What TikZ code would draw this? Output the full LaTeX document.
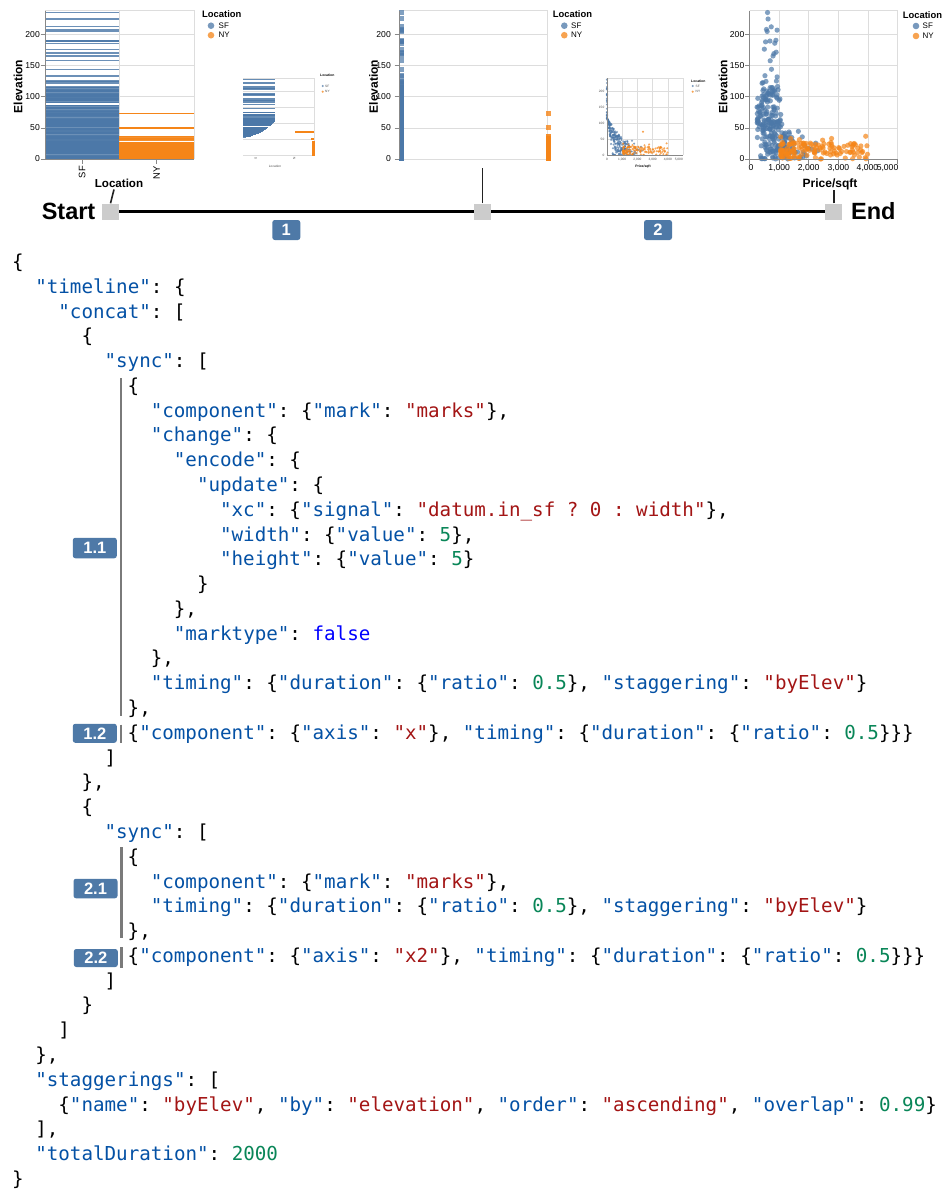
\documentclass[tikz,border=0pt]{standalone}
\usepackage{fontspec}
\setmainfont{Liberation Sans}
\newfontfamily\codefont{DejaVu Sans Mono}
\definecolor{sfc}{HTML}{4C78A8}
\definecolor{nyc}{HTML}{F58518}
\definecolor{jkeyc}{HTML}{0451A5}
\definecolor{jstrc}{HTML}{A31515}
\definecolor{jnumc}{HTML}{098658}
\definecolor{jboolc}{HTML}{0000FF}
\definecolor{badgec}{HTML}{4E79A7}
\definecolor{gridc}{HTML}{DDDDDD}
\definecolor{axc}{HTML}{888888}
\definecolor{sqc}{HTML}{CCCCCC}
\definecolor{codebarc}{HTML}{7A7A7A}
\definecolor{leadc}{HTML}{222222}
\newcommand\jk[1]{\textcolor{jkeyc}{"#1"}}
\newcommand\js[1]{\textcolor{jstrc}{"#1"}}
\newcommand\jn[1]{\textcolor{jnumc}{#1}}
\newcommand\jb[1]{\textcolor{jboolc}{#1}}
\newcommand\jlb{\{}
\newcommand\jrb{\}}
\newcommand\codeln[4]{\node[codeline] (#1) at ({12+11.55*#2},{268.5+24.78*(#3-1)}) {#4};}
\newcommand\sfgen{%
  \pgfmathsetmacro\myra{rnd}%
  \pgfmathsetmacro\myrb{rnd}%
  \pgfmathsetmacro\myrc{rnd}%
  \pgfmathsetmacro\myrd{rnd}%
  \pgfmathsetmacro\ev{\myra<0.011 ? 205+35*\myrb : (\myra<0.04 ? 150+42*\myrb : (\myra<0.09 ? 112+38*\myrb : (\myra<0.30 ? 76+36*\myrb : 76*\myrb)))}%
  \pgfmathsetmacro\pr{\ev>100 ? 420+560*\myrc : 250+850*\myrc + (\ev<45 ? 1300*\myrd*\myrd : 0)}%
}
\newcommand\nygen{%
  \pgfmathsetmacro\myra{rnd}%
  \pgfmathsetmacro\myrb{rnd}%
  \pgfmathsetmacro\myrc{rnd}%
  \pgfmathsetmacro\myrd{rnd}%
  \pgfmathsetmacro\ev{\myra<0.96 ? 27*\myrb : 28+10*\myrb}%
  \pgfmathsetmacro\pr{1050+3000*\myrc^1.5 + (\myrd>0.97 ? 600 : 0)}%
}
\frenchspacing
\tikzset{
  codeline/.style={anchor=base west, inner sep=0, font=\codefont\fontsize{19.2}{24}\selectfont},
  badge/.style={fill=badgec, rounded corners=2.5pt, text=white, inner sep=0,
    font=\bfseries\fontsize{16.5}{16.5}\selectfont},
  codebar/.style={draw=codebarc, line width=2.6pt},
  sqnode/.style={fill=sqc, minimum width=17, minimum height=16, inner sep=0},
  tline/.style={line width=3.2pt},
  leader/.style={draw=leadc, line width=1.6pt},
  ticklbl/.style={font=\fontsize{8.6}{8.6}\selectfont, inner sep=0},
  axtitle/.style={font=\bfseries\fontsize{12}{12}\selectfont, inner sep=0},
  legtitle/.style={font=\bfseries\fontsize{9.4}{9.4}\selectfont, inner sep=0, anchor=west},
  leglbl/.style={font=\fontsize{8}{8}\selectfont, inner sep=0, anchor=west},
  gridln/.style={draw=gridc, line width=.8pt},
  axln/.style={draw=axc, line width=.8pt},
  tinylbl/.style={font=\fontsize{3.2}{3.2}\selectfont, inner sep=0, text=black!70},
  tinytitle/.style={font=\bfseries\fontsize{3.4}{3.4}\selectfont, inner sep=0},
  tinygrid/.style={draw=gridc, line width=.35pt},
}
\begin{document}
\begin{tikzpicture}[x=1pt,y=-1pt]
\useasboundingbox (0,0) rectangle (943,1189);
\fill[white] (0,0) rectangle (943,1189);

%% ================= Chart 1 (bars by location) =================
\foreach \tk in {50,100,150,200} \draw[gridln] (45,{159-0.6217*\tk}) -- (194,{159-0.6217*\tk});
\draw[gridln] (45,10.7) -- (194,10.7) -- (194,159);
\draw[gridln] (119.3,10.7) -- (119.3,159);
\pgfmathsetseed{11}
\foreach \i in {1,...,260}{\sfgen
  \fill[sfc, fill opacity=.82]
    (45,{159-0.6217*\ev-0.6}) rectangle (119.3,{159-0.6217*\ev+0.6});}
\pgfmathsetseed{23}
\foreach \i in {1,...,140}{\nygen
  \fill[nyc, fill opacity=.9]
    (119.3,{159-0.6217*\ev-0.75}) rectangle (194,{159-0.6217*\ev+0.75});}
\foreach \ee in {50,73}
  \fill[nyc] (119.3,{159-0.6217*\ee-0.75}) rectangle (194,{159-0.6217*\ee+0.75});
\draw[axln] (45,10.7) -- (45,159) -- (194,159);
\foreach \tk in {0,50,100,150,200}{
  \draw[axln] (40.5,{159-0.6217*\tk}) -- (45,{159-0.6217*\tk});
  \node[ticklbl, anchor=east] (c1y\tk) at (40,{159-0.6217*\tk}) {\tk};}
\draw[axln] (82.2,159) -- (82.2,164);
\draw[axln] (156.7,159) -- (156.7,164);
\node[ticklbl, font=\fontsize{9.4}{9.4}\selectfont, rotate=90, anchor=east] (c1sf) at (82.2,166) {SF};
\node[ticklbl, font=\fontsize{9.4}{9.4}\selectfont, rotate=90, anchor=east] (c1ny) at (156.7,166) {NY};
\node[axtitle, rotate=90] (c1ytitle) at (18,86.5) {Elevation};
\node[axtitle, font=\bfseries\fontsize{11.6}{11.6}\selectfont] (loclbl) at (119,183) {Location};
\node[legtitle] (c1leg) at (202,13.7) {Location};
\fill[sfc, fill opacity=.75] (211,25.7) circle (3.3pt);
\fill[nyc, fill opacity=.75] (211,35.2) circle (3.3pt);
\node[leglbl] (c1legsf) at (218.5,25.6) {SF};
\node[leglbl] (c1legny) at (218.5,35.1) {NY};

%% ================= Thumbnail 1 =================
\foreach \tk in {0,50,100,150,200} \draw[tinygrid] (243,{155-0.32*\tk}) -- (314,{155-0.32*\tk});
\draw[tinygrid] (243,78.5) -- (314,78.5) -- (314,155);
\pgfmathsetseed{11}
\foreach \i in {1,...,260}{\sfgen
  \pgfmathsetmacro\fw{min(1,sqrt(max(0,(\ev-56)/50)))}
  \ifdim\fw pt>0.03pt
  \fill[sfc, fill opacity=.85]
    (243,{155-0.32*\ev-0.6}) rectangle ({243+32*\fw},{155-0.32*\ev+0.6});
  \fi}
\fill[nyc] (295,130.8) rectangle (314,132.6);
\fill[nyc] (311,138.2) rectangle (314,139.6);
\fill[nyc] (312,141) rectangle (314.6,155.5);
\node[tinylbl, rotate=90, anchor=east] (t1s) at (255.7,157) {S};
\node[tinylbl, rotate=90, anchor=east] (t1n) at (294.3,157) {N};
\node[tinylbl] (t1loc) at (275,166.7) {Location};
\node[tinytitle, anchor=west] (t1leg) at (320,75) {Location};
\fill[sfc, fill opacity=.75] (322.7,86) circle (1.2pt);
\fill[nyc, fill opacity=.75] (322.7,91.7) circle (1.2pt);
\node[tinylbl, anchor=west] (t1sf) at (325,86) {SF};
\node[tinylbl, anchor=west] (t1ny) at (325,91.7) {NY};

%% ================= Chart 2 (collapsed columns) =================
\foreach \tk in {0,50,100,150,200} \draw[gridln] (399,{159-0.6217*\tk}) -- (547,{159-0.6217*\tk});
\draw[gridln] (399,10.7) -- (547,10.7) -- (547,159);
\pgfmathsetseed{11}
\foreach \i in {1,...,260}{\sfgen
  \fill[sfc, fill opacity=.7] (399,{159-0.6217*\ev-2.5}) rectangle (404,{159-0.6217*\ev+2.5});}
\pgfmathsetseed{23}
\foreach \i in {1,...,140}{\nygen
  \fill[nyc, fill opacity=.7] (546,{159-0.6217*\ev-2.5}) rectangle (551,{159-0.6217*\ev+2.5});}
\foreach \ee in {50,73}
  \fill[nyc, fill opacity=.8] (546,{159-0.6217*\ee-2.5}) rectangle (551,{159-0.6217*\ee+2.5});
\draw[axln] (399,10.7) -- (399,159);
\foreach \tk in {0,50,100,150,200}{
  \draw[axln] (394.5,{159-0.6217*\tk}) -- (399,{159-0.6217*\tk});
  \node[ticklbl, anchor=east] (c2y\tk) at (391,{159-0.6217*\tk}) {\tk};}
\node[axtitle, rotate=90] (c2ytitle) at (373.5,86.5) {Elevation};
\node[legtitle] (c2leg) at (552.7,13.7) {Location};
\fill[sfc, fill opacity=.75] (564.3,25.7) circle (3.3pt);
\fill[nyc, fill opacity=.75] (564.3,35.2) circle (3.3pt);
\node[leglbl] (c2legsf) at (571,25.6) {SF};
\node[leglbl] (c2legny) at (571,35.1) {NY};

%% ================= Thumbnail 2 =================
\foreach \tk in {0,50,100,150,200} \draw[tinygrid] (607,{155-0.32*\tk}) -- (683,{155-0.32*\tk});
\foreach \tk in {0,1,2,3,4,5} \draw[tinygrid] ({607+15.2*\tk},78) -- ({607+15.2*\tk},155);
\draw[tinygrid] (607,78) -- (683,78) -- (683,155);
\pgfmathsetseed{11}
\foreach \i in {1,...,260}{\sfgen
  \pgfmathsetmacro\pp{min(1,max(0,(115-\ev)/70))}
  \fill[sfc, fill opacity=.7] ({607+0.0152*\pr*\pp},{155-0.32*\ev}) circle (1.15pt);}
\pgfmathsetseed{23}
\foreach \i in {1,...,140}{\nygen
  \pgfmathsetmacro\pp{min(1,max(0,(110-\ev)/60))}
  \fill[nyc, fill opacity=.7] ({607+0.0152*(5000+(\pr-5000)*\pp)},{155-0.32*\ev}) circle (1.15pt);}
\fill[nyc, fill opacity=.8] (643,131.7) circle (1.15pt);
\draw[draw=axc, line width=.35pt] (607,78) -- (607,155) -- (683,155);
\foreach \tk in {0,50,100,150,200}
  \node[tinylbl, anchor=east] (t2y\tk) at (604.5,{155-0.32*\tk}) {\tk};
\node[tinylbl, anchor=west] (t2x0) at (606,159.5) {0};
\node[tinylbl] (t2x1) at (622.2,159.5) {1,000};
\node[tinylbl] (t2x2) at (637.4,159.5) {2,000};
\node[tinylbl] (t2x3) at (652.6,159.5) {3,000};
\node[tinylbl] (t2x4) at (667.8,159.5) {4,000};
\node[tinylbl, anchor=east] (t2x5) at (683,159.5) {5,000};
\node[tinytitle] (t2xtitle) at (643,166.7) {Price/sqft};
\node[tinytitle, anchor=west] (t2leg) at (691,81.7) {Location};
\fill[sfc, fill opacity=.75] (692.7,86) circle (1.2pt);
\fill[nyc, fill opacity=.75] (692.7,91.7) circle (1.2pt);
\node[tinylbl, anchor=west] (t2sf) at (695.5,86) {SF};
\node[tinylbl, anchor=west] (t2ny) at (695.5,91.7) {NY};

%% ================= Chart 3 (scatter) =================
\foreach \tk in {50,100,150,200} \draw[gridln] (749.5,{159-0.6217*\tk}) -- (898,{159-0.6217*\tk});
\foreach \tk in {1,2,3,4,5} \draw[gridln] ({749.5+29.62*\tk},10.7) -- ({749.5+29.62*\tk},159);
\draw[gridln] (749.5,10.7) -- (898,10.7);
\pgfmathsetseed{11}
\foreach \i in {1,...,260}{\sfgen
  \fill[sfc, fill opacity=.7] ({749.5+0.02962*\pr},{159-0.6217*\ev}) circle (2.6pt);}
\pgfmathsetseed{23}
\foreach \i in {1,...,140}{\nygen
  \fill[nyc, fill opacity=.7] ({749.5+0.02962*\pr},{159-0.6217*\ev}) circle (2.6pt);}
\draw[axln] (749.5,10.7) -- (749.5,159) -- (898,159);
\foreach \tk in {0,50,100,150,200}{
  \draw[axln] (745,{159-0.6217*\tk}) -- (749.5,{159-0.6217*\tk});
  \node[ticklbl, anchor=east] (c3y\tk) at (744.5,{159-0.6217*\tk}) {\tk};}
\foreach \tk in {0,1,2,3,4,5} \draw[axln] ({749.5+29.62*\tk},159) -- ({749.5+29.62*\tk},163.5);
\node[ticklbl, anchor=west] (c3x0) at (748.5,168) {0};
\node[ticklbl] (c3x1) at (779.1,168) {1,000};
\node[ticklbl] (c3x2) at (808.7,168) {2,000};
\node[ticklbl] (c3x3) at (838.4,168) {3,000};
\node[ticklbl] (c3x4) at (867.5,168) {4,000};
\node[ticklbl, anchor=east] (c3x5) at (898.5,168) {5,000};
\node[axtitle, rotate=90] (c3ytitle) at (723,86.5) {Elevation};
\node[axtitle] (pricelbl) at (830,184.5) {Price/sqft};
\node[legtitle] (c3leg) at (902.7,14.7) {Location};
\fill[sfc, fill opacity=.75] (916,26) circle (3.3pt);
\fill[nyc, fill opacity=.75] (916,36) circle (3.3pt);
\node[leglbl] (c3legsf) at (922.5,26) {SF};
\node[leglbl] (c3legny) at (922.5,35.8) {NY};

%% ================= Timeline =================
\node[sqnode] (start) at (110.5,211.5) {};
\node[sqnode] (mid) at (482.5,211.5) {};
\node[sqnode] (end) at (833.8,211.5) {};
\draw[tline] (start.east) -- (mid.west);
\draw[tline] (mid.east) -- (end.west);
\node[anchor=base east, inner sep=0, font=\bfseries\fontsize{23.5}{23.5}\selectfont] (startlbl) at (95.5,219) {Start};
\node[anchor=base west, inner sep=0, font=\bfseries\fontsize{23.5}{23.5}\selectfont] (endlbl) at (851,219) {End};
\coordinate (loctip) at (114,189.5);
\coordinate (midtip) at (482.5,168);
\draw[leader] (start.north) -- (loctip);
\draw[leader] (mid.north) -- (midtip);
\draw[leader] (end.north) -- (end.north |- pricelbl.south);
\node[badge, minimum width=28, minimum height=20] (b1) at (286.3,230) {1};
\node[badge, minimum width=28, minimum height=20] (b2) at (658,230) {2};

%% ================= Code =================
\codeln{l1}{0}{1}{\jlb}
\codeln{l2}{2}{2}{\jk{timeline}: \jlb}
\codeln{l3}{4}{3}{\jk{concat}: [}
\codeln{l4}{6}{4}{\jlb}
\codeln{l5}{8}{5}{\jk{sync}: [}
\codeln{l6}{10}{6}{\jlb}
\codeln{l7}{12}{7}{\jk{component}: \jlb\jk{mark}: \js{marks}\jrb,}
\codeln{l8}{12}{8}{\jk{change}: \jlb}
\codeln{l9}{14}{9}{\jk{encode}: \jlb}
\codeln{l10}{16}{10}{\jk{update}: \jlb}
\codeln{l11}{18}{11}{\jk{xc}: \jlb\jk{signal}: \js{datum.in\_sf ? 0 : width}\jrb,}
\codeln{l12}{18}{12}{\jk{width}: \jlb\jk{value}: \jn{5}\jrb,}
\codeln{l13}{18}{13}{\jk{height}: \jlb\jk{value}: \jn{5}\jrb}
\codeln{l14}{16}{14}{\jrb}
\codeln{l15}{14}{15}{\jrb,}
\codeln{l16}{14}{16}{\jk{marktype}: \jb{false}}
\codeln{l17}{12}{17}{\jrb,}
\codeln{l18}{12}{18}{\jk{timing}: \jlb\jk{duration}: \jlb\jk{ratio}: \jn{0.5}\jrb, \jk{staggering}: \js{byElev}\jrb}
\codeln{l19}{10}{19}{\jrb,}
\codeln{l20}{10}{20}{\jlb\jk{component}: \jlb\jk{axis}: \js{x}\jrb, \jk{timing}: \jlb\jk{duration}: \jlb\jk{ratio}: \jn{0.5}\jrb\jrb\jrb}
\codeln{l21}{8}{21}{]}
\codeln{l22}{6}{22}{\jrb,}
\codeln{l23}{6}{23}{\jlb}
\codeln{l24}{8}{24}{\jk{sync}: [}
\codeln{l25}{10}{25}{\jlb}
\codeln{l26}{12}{26}{\jk{component}: \jlb\jk{mark}: \js{marks}\jrb,}
\codeln{l27}{12}{27}{\jk{timing}: \jlb\jk{duration}: \jlb\jk{ratio}: \jn{0.5}\jrb, \jk{staggering}: \js{byElev}\jrb}
\codeln{l28}{10}{28}{\jrb,}
\codeln{l29}{10}{29}{\jlb\jk{component}: \jlb\jk{axis}: \js{x2}\jrb, \jk{timing}: \jlb\jk{duration}: \jlb\jk{ratio}: \jn{0.5}\jrb\jrb\jrb}
\codeln{l30}{8}{30}{]}
\codeln{l31}{6}{31}{\jrb}
\codeln{l32}{4}{32}{]}
\codeln{l33}{2}{33}{\jrb,}
\codeln{l34}{2}{34}{\jk{staggerings}: [}
\codeln{l35}{4}{35}{\jlb\jk{name}: \js{byElev}, \jk{by}: \js{elevation}, \jk{order}: \js{ascending}, \jk{overlap}: \jn{0.99}\jrb}
\codeln{l36}{2}{36}{],}
\codeln{l37}{2}{37}{\jk{totalDuration}: \jn{2000}}
\codeln{l38}{0}{38}{\jrb}

%% code brackets and badges
\draw[codebar] (121,378) -- (121,716);
\draw[codebar] (121,724.5) -- (121,743);
\draw[codebar] (121.5,847) -- (121.5,938);
\draw[codebar] (121.5,947) -- (121.5,967.5);
\node[badge, minimum width=44, minimum height=20.5] (b11) at (94.8,548) {1.1};
\node[badge, minimum width=44, minimum height=19] (b12) at (94.8,733.3) {1.2};
\node[badge, minimum width=44, minimum height=19.5] (b21) at (95.5,888.5) {2.1};
\node[badge, minimum width=44, minimum height=18] (b22) at (95.8,958) {2.2};
\end{tikzpicture}
\end{document}
